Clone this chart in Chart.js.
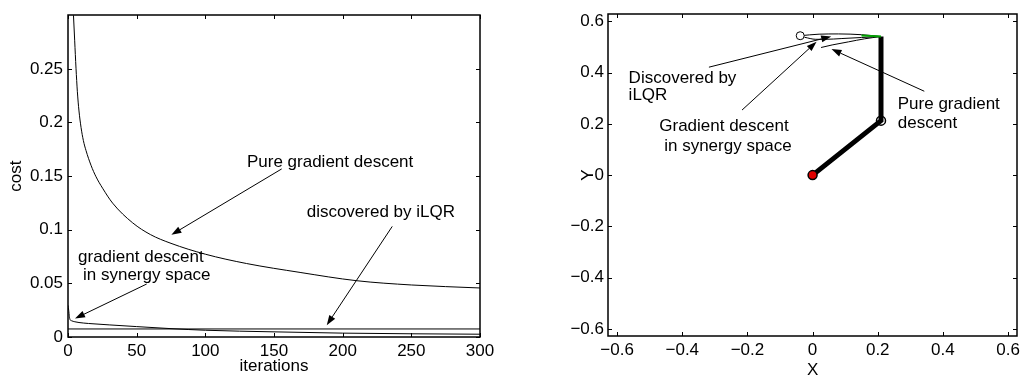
<!DOCTYPE html>
<html><head><meta charset="utf-8">
<script src="https://cdn.jsdelivr.net/npm/chart.js@4"></script>
<style>
html,body{margin:0;padding:0;background:#fff;}
#wrap{position:relative;width:1024px;height:379px;overflow:hidden;background:#fff;}
canvas{position:absolute;top:0;}
#c1{left:0;} #c2{left:512px;}
</style></head><body>
<div id="wrap"><canvas id="c1" width="512" height="379"></canvas><canvas id="c2" width="512" height="379"></canvas></div>
<script>
// ---------- Left panel data (cost vs iterations) ----------
const pureIter = [3, 3.88, 4.85, 5.83, 6.8, 8.0, 9.5, 11.2, 13.1, 16.75, 20.4, 25.2, 32.5, 47.1, 60, 75, 100, 130, 169, 210, 250, 300];
const pureCost = [0.326, 0.3027, 0.2767, 0.2506, 0.2291, 0.2107, 0.1954, 0.1831, 0.1739, 0.1601, 0.1494, 0.1387, 0.1248, 0.1064, 0.0955, 0.0873, 0.0772, 0.0685, 0.0602, 0.0525, 0.0485, 0.0457];
const synIter = [0, 0.5, 1, 1.5, 2.5, 5, 8, 15, 30, 50, 75, 100, 150, 200, 250, 300];
const synCost = [0.0295, 0.025, 0.019, 0.0162, 0.0152, 0.0142, 0.0135, 0.0126, 0.0113, 0.0097, 0.0078, 0.0063, 0.0048, 0.0036, 0.0030, 0.0026];
const ilqrIter = [0, 300];
const ilqrCost = [0.0075, 0.0075];
const leftXTicks = [0, 50, 100, 150, 200, 250, 300];
const leftYTicks = [0, 0.05, 0.1, 0.15, 0.2, 0.25];

// ---------- Right panel data (arm in X-Y plane) ----------
const armX = [0, 0.21, 0.21];
const armY = [0, 0.2125, 0.541];
const ilqrTrajX = [0.21, 0.15, 0.08, 0.02, -0.038];
const ilqrTrajY = [0.541, 0.548, 0.551, 0.55, 0.544];
const synTrajX = [0.21, 0.15, 0.09, 0.04, 0.01, -0.025];
const synTrajY = [0.541, 0.537, 0.533, 0.53, 0.53, 0.538];
const pureTrajX = [0.21, 0.16, 0.11, 0.06, 0.026];
const pureTrajY = [0.541, 0.532, 0.52, 0.508, 0.498];
const greenX = [0.15, 0.21];
const greenY = [0.545, 0.541];
const baseX = [0], baseY = [0];
const elbowX = [0.21], elbowY = [0.2125];
const targetX = [-0.038], targetY = [0.544];
const rightTicks = [-0.6, -0.4, -0.2, 0, 0.2, 0.4, 0.6];

// ---------- Annotations (data coordinates) ----------
const ANN = {
  c1: {
    texts: [
      ['Pure gradient descent', 130.3, 0.1633],
      ['discovered by iLQR', 173.8, 0.116],
      ['gradient descent', 7.3, 0.0745],
      ['in synergy space', 10.9, 0.0575]
    ],
    arrows: [
      [155.6, 0.1567, 75.3, 0.0953],
      [236.1, 0.1031, 188.4, 0.011],
      [57.3, 0.0494, 5.1, 0.0172]
    ]
  },
  c2: {
    texts: [
      ['Discovered by', -0.5647, 0.3787],
      ['iLQR', -0.5647, 0.313],
      ['Gradient descent', -0.4707, 0.1893],
      ['in synergy space', -0.4555, 0.112],
      ['Pure gradient', 0.2614, 0.2755],
      ['descent', 0.2614, 0.2021]
    ],
    arrows: [
      [-0.3182, 0.4212, 0.0571, 0.541],
      [-0.2166, 0.2539, 0.0122, 0.5205],
      [0.3429, 0.3273, 0.058, 0.4919]
    ]
  }
};

const FONT = "'Liberation Sans', Arial, Helvetica, sans-serif";
Chart.defaults.font.family = FONT;
Chart.defaults.font.size = 17;
Chart.defaults.color = '#000';
Chart.defaults.animation = false;

function xy(xs, ys) { return xs.map((x, i) => ({x: x, y: ys[i]})); }
function fmt(v) {
  let s = (Math.round(v * 100) / 100).toString();
  if (s === '-0') s = '0';
  return s.replace('-', '\u2212');
}

const boxTicks = {
  id: 'boxTicks',
  afterDatasetsDraw(chart) {
    const ctx = chart.ctx;
    const a = chart.chartArea;
    const sx = chart.scales.x, sy = chart.scales.y;
    const L = Math.round(a.left), R = Math.round(a.right), T = Math.round(a.top), B = Math.round(a.bottom);
    ctx.save();
    ctx.strokeStyle = '#000';
    ctx.lineWidth = 1;
    const tl = 4;
    ctx.beginPath();
    sx.ticks.forEach(t => {
      const p = Math.round(sx.getPixelForValue(t.value)) + 0.5;
      ctx.moveTo(p, B); ctx.lineTo(p, B - tl);
      ctx.moveTo(p, T); ctx.lineTo(p, T + tl);
    });
    sy.ticks.forEach(t => {
      const p = Math.round(sy.getPixelForValue(t.value)) + 0.5;
      ctx.moveTo(L, p); ctx.lineTo(L + tl, p);
      ctx.moveTo(R, p); ctx.lineTo(R - tl, p);
    });
    ctx.stroke();
    ctx.lineWidth = 1.5;
    ctx.strokeRect(L, T, R - L, B - T);
    ctx.restore();
  }
};

const annot = {
  id: 'annot',
  afterDatasetsDraw(chart) {
    const spec = ANN[chart.canvas.id];
    if (!spec) return;
    const ctx = chart.ctx;
    const sx = chart.scales.x, sy = chart.scales.y;
    ctx.save();
    ctx.fillStyle = '#000';
    ctx.strokeStyle = '#000';
    ctx.font = '17px ' + FONT;
    ctx.textBaseline = 'middle';
    ctx.textAlign = 'left';
    spec.texts.forEach(t => ctx.fillText(t[0], sx.getPixelForValue(t[1]), sy.getPixelForValue(t[2])));
    spec.arrows.forEach(a => {
      const x1 = sx.getPixelForValue(a[0]), y1 = sy.getPixelForValue(a[1]);
      const x2 = sx.getPixelForValue(a[2]), y2 = sy.getPixelForValue(a[3]);
      const ang = Math.atan2(y2 - y1, x2 - x1);
      const c = Math.cos(ang), s = Math.sin(ang);
      const HL = 10, HW = 3.5;
      ctx.lineWidth = 1;
      ctx.beginPath();
      ctx.moveTo(x1, y1);
      ctx.lineTo(x2 - HL * c, y2 - HL * s);
      ctx.stroke();
      ctx.beginPath();
      ctx.moveTo(x2, y2);
      ctx.lineTo(x2 - HL * c + HW * s, y2 - HL * s - HW * c);
      ctx.lineTo(x2 - HL * c - HW * s, y2 - HL * s + HW * c);
      ctx.closePath();
      ctx.fill();
    });
    ctx.restore();
  }
};

function lineDs(xs, ys, color, width, order) {
  return {data: xy(xs, ys), showLine: true, borderColor: color, borderWidth: width,
          pointRadius: 0, fill: false, order: order, cubicInterpolationMode: 'monotone'};
}
function ptDs(xs, ys, bg, r, bw, order) {
  return {data: xy(xs, ys), showLine: false, pointRadius: r, pointBackgroundColor: bg,
          pointBorderColor: '#000', pointBorderWidth: bw, order: order};
}

new Chart(document.getElementById('c1'), {
  type: 'scatter',
  data: {datasets: [
    lineDs(pureIter, pureCost, '#000', 1, 1),
    lineDs(synIter, synCost, '#000', 1, 1),
    lineDs(ilqrIter, ilqrCost, '#000', 1, 1)
  ]},
  options: {
    responsive: false, animation: false, events: [],
    layout: {padding: {left: 0, right: 32, top: 11, bottom: 0}},
    plugins: {legend: {display: false}, tooltip: {enabled: false}},
    scales: {
      x: {type: 'linear', min: 0, max: 300,
          grid: {display: false, drawTicks: false}, border: {display: false},
          afterBuildTicks(s) { s.ticks = leftXTicks.map(v => ({value: v})); },
          ticks: {padding: 4, maxRotation: 0, autoSkip: false, callback: v => fmt(v)},
          title: {display: true, text: 'iterations', padding: {top: 0, bottom: 3.8}, font: {size: 17, lineHeight: 1}},
          afterFit(s) { s.height = 42; }},
      y: {type: 'linear', min: 0, max: 0.3,
          grid: {display: false, drawTicks: false}, border: {display: false},
          afterBuildTicks(s) { s.ticks = leftYTicks.map(v => ({value: v})); },
          ticks: {padding: 5, autoSkip: false, callback: v => fmt(v)},
          title: {display: true, text: 'cost', padding: {top: 7.5, bottom: 0}, font: {size: 17, lineHeight: 1}},
          afterFit(s) { s.width = 68; }}
    }
  },
  plugins: [boxTicks, annot]
});

new Chart(document.getElementById('c2'), {
  type: 'scatter',
  data: {datasets: [
    {data: xy(armX, armY), showLine: true, borderColor: '#000', borderWidth: 5, pointRadius: 0, fill: false, order: 5, tension: 0},
    lineDs(ilqrTrajX, ilqrTrajY, '#000', 1, 4),
    lineDs(synTrajX, synTrajY, '#000', 1, 4),
    lineDs(pureTrajX, pureTrajY, '#000', 1, 4),
    lineDs(greenX, greenY, '#00a000', 2, 3),
    ptDs(baseX, baseY, '#e00000', 4.5, 1.5, 1),
    ptDs(elbowX, elbowY, 'rgba(255,255,255,0)', 4.5, 1.5, 1),
    ptDs(targetX, targetY, '#ffffff', 4, 1, 1)
  ]},
  options: {
    responsive: false, animation: false, events: [],
    layout: {padding: {left: 0, right: 4, top: 11, bottom: 0}},
    plugins: {legend: {display: false}, tooltip: {enabled: false}},
    scales: {
      x: {type: 'linear', min: -0.628, max: 0.628,
          grid: {display: false, drawTicks: false}, border: {display: false},
          afterBuildTicks(s) { s.ticks = rightTicks.map(v => ({value: v})); },
          ticks: {padding: 4, maxRotation: 0, autoSkip: false, callback: v => fmt(v)},
          title: {display: true, text: 'X', padding: {top: 0, bottom: 0.5}, font: {size: 17, lineHeight: 1}},
          afterFit(s) { s.height = 43; }},
      y: {type: 'linear', min: -0.628, max: 0.628,
          grid: {display: false, drawTicks: false}, border: {display: false},
          afterBuildTicks(s) { s.ticks = rightTicks.map(v => ({value: v})); },
          ticks: {padding: 4, autoSkip: false, callback: v => fmt(v)},
          title: {display: true, text: 'Y', padding: {top: 67.5, bottom: 0}, font: {size: 17, lineHeight: 1}},
          afterFit(s) { s.width = 96; }}
    }
  },
  plugins: [boxTicks, annot]
});
</script>
</body></html>
